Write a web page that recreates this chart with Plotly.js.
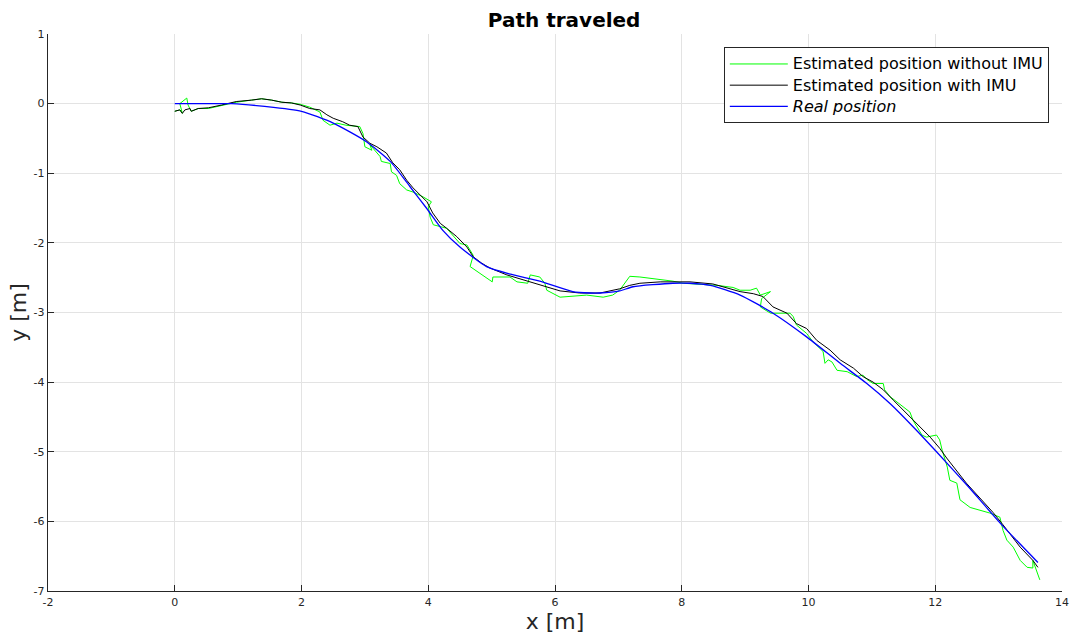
<!DOCTYPE html>
<html>
<head>
<meta charset="utf-8">
<script src="https://cdn.plot.ly/plotly-3.0.1.min.js"></script>
<style>html,body{margin:0;padding:0;background:#fff;}#chart{width:1072px;height:634px;}</style>
</head>
<body>
<div id="chart"></div>
<script>
// Estimated position without IMU (green)
const noImuX = [0,0.08,0.12,0.08,0.19,0.21,0.26,0.37,0.53,0.74,0.89,0.97,1.21,1.37,1.53,1.69,1.84,1.98,2.13,2.29,2.34,2.45,2.56,2.70,2.92,2.97,3.00,3.11,3.08,3.24,3.26,3.40,3.42,3.50,3.55,3.66,3.76,3.92,4.05,4.00,4.03,4.08,4.29,4.40,4.50,4.61,4.71,4.66,5.01,5.02,5.29,5.40,5.57,5.61,5.76,5.84,5.87,6.08,6.50,6.76,6.91,7.02,7.18,7.34,7.86,8.02,8.56,8.81,8.92,9.08,9.18,9.24,9.34,9.40,9.26,9.24,9.40,9.71,9.76,9.81,9.97,10.07,10.23,10.26,10.31,10.37,10.45,10.61,10.76,10.86,10.92,11.02,11.18,11.20,11.29,11.44,11.60,11.65,11.71,11.79,11.86,12.02,12.07,12.11,12.19,12.23,12.34,12.39,12.55,12.70,12.86,13.02,13.07,13.13,13.23,13.34,13.45,13.54,13.54,13.65];
const noImuY = [-0.11,-0.09,-0.14,0.00,0.08,-0.02,-0.11,-0.07,-0.07,-0.03,0.00,0.02,0.05,0.07,0.05,0.02,0.01,-0.01,-0.05,-0.12,-0.24,-0.31,-0.28,-0.31,-0.33,-0.43,-0.62,-0.67,-0.59,-0.76,-0.83,-0.86,-0.98,-1.03,-1.15,-1.24,-1.27,-1.34,-1.41,-1.48,-1.63,-1.74,-1.79,-1.91,-2.01,-2.03,-2.18,-2.34,-2.56,-2.49,-2.49,-2.56,-2.58,-2.46,-2.49,-2.58,-2.68,-2.78,-2.75,-2.78,-2.75,-2.68,-2.48,-2.49,-2.55,-2.58,-2.61,-2.64,-2.68,-2.68,-2.65,-2.75,-2.72,-2.70,-2.80,-2.92,-3.01,-3.01,-3.06,-3.18,-3.30,-3.42,-3.56,-3.73,-3.68,-3.71,-3.83,-3.85,-3.92,-3.90,-3.96,-4.02,-4.02,-4.11,-4.21,-4.31,-4.43,-4.55,-4.64,-4.76,-4.79,-4.76,-4.83,-4.98,-5.22,-5.41,-5.45,-5.69,-5.80,-5.84,-5.88,-5.94,-6.13,-6.27,-6.37,-6.56,-6.66,-6.67,-6.56,-6.84];

// Estimated position with IMU (black)
const imuX = [0,0.08,0.12,0.16,0.24,0.26,0.37,0.53,0.74,0.89,0.97,1.21,1.37,1.53,1.69,1.84,1.98,2.13,2.29,2.40,2.50,2.65,2.76,2.89,2.97,3.08,3.19,3.34,3.44,3.55,3.66,3.76,3.87,3.98,4.07,4.19,4.29,4.45,4.61,4.71,4.84,4.97,5.24,5.50,5.76,6.08,6.39,6.71,7.02,7.18,7.34,7.66,8.13,8.49,8.92,9.13,9.28,9.44,9.66,9.81,9.97,10.13,10.34,10.50,10.71,10.86,11.02,11.18,11.34,11.55,11.76,11.92,12.07,12.18,12.49,12.91,13.07,13.34,13.54,13.62];
const imuY = [-0.11,-0.09,-0.14,-0.09,-0.07,-0.11,-0.07,-0.06,-0.02,0.01,0.03,0.05,0.07,0.05,0.02,0.01,-0.02,-0.07,-0.09,-0.16,-0.21,-0.26,-0.31,-0.33,-0.48,-0.57,-0.62,-0.71,-0.85,-0.95,-1.10,-1.21,-1.31,-1.41,-1.57,-1.72,-1.79,-1.91,-2.06,-2.20,-2.29,-2.36,-2.46,-2.53,-2.61,-2.69,-2.72,-2.72,-2.66,-2.61,-2.58,-2.56,-2.56,-2.59,-2.70,-2.73,-2.77,-2.92,-3.01,-3.16,-3.23,-3.40,-3.54,-3.68,-3.80,-3.92,-4.00,-4.11,-4.26,-4.45,-4.64,-4.79,-4.95,-5.09,-5.45,-5.87,-6.05,-6.37,-6.56,-6.66];

// Real position (blue)
const realX = [0,0.5,0.9,1.42,2.0,2.5,3.03,3.40,3.71,3.98,4.23,4.50,4.92,5.30,5.76,6.28,6.55,6.71,7.02,7.23,7.86,8.13,8.45,8.92,9.44,9.97,10.50,10.92,11.29,11.65,12.02,12.52,13.05,13.62];
const realY = [0,0,0,-0.04,-0.11,-0.28,-0.55,-0.83,-1.19,-1.51,-1.82,-2.06,-2.34,-2.45,-2.55,-2.70,-2.72,-2.72,-2.69,-2.63,-2.58,-2.58,-2.61,-2.75,-3.01,-3.35,-3.73,-4.02,-4.31,-4.64,-5.00,-5.50,-6.05,-6.59];

const xTickVals = [-2,0,2,4,6,8,10,12,14];
const xTickText = ["-2","0","2","4","6","8","10","12","14"];
const yTickVals = [1,0,-1,-2,-3,-4,-5,-6,-7];
const yTickText = ["1","0","-1","-2","-3","-4","-5","-6","-7"];

const legendNames = ['Estimated position without IMU', 'Estimated position with IMU', 'Real position'];

const sized = s => '<span style="font-size:16px">' + s + '</span>';

const traces = [
  {x: noImuX, y: noImuY, mode: 'lines', name: sized(legendNames[0]), line: {color: '#00ff00', width: 1}},
  {x: imuX, y: imuY, mode: 'lines', name: sized(legendNames[1]), line: {color: '#000000', width: 1}},
  {x: realX, y: realY, mode: 'lines', name: sized('<i>' + legendNames[2] + '</i>'), line: {color: '#0000ff', width: 1.3, shape: 'spline', smoothing: 0.6}}
];

const axisCommon = {
  showline: true, linecolor: '#262626', linewidth: 1.3,
  ticks: 'inside', ticklen: 6, tickcolor: '#262626', tickwidth: 1,
  showgrid: true, gridcolor: '#e3e3e3', gridwidth: 1,
  zeroline: false, mirror: false,
  tickfont: {family: 'DejaVu Sans', size: 11, color: '#262626'}
};

const layout = {
  width: 1072, height: 634,
  margin: {l: 48, r: 10, t: 34, b: 43},
  paper_bgcolor: '#ffffff', plot_bgcolor: '#ffffff',
  font: {family: 'DejaVu Sans', color: '#000000'},
  title: {text: '<b>Path traveled</b>', x: 0.509, xref: 'paper', y: 0.968, yref: 'container', yanchor: 'middle',
          font: {family: 'DejaVu Sans', size: 20, color: '#000000'}},
  xaxis: Object.assign({}, axisCommon, {
    range: [-2, 14], tickvals: xTickVals, ticktext: xTickText,
    title: {text: 'x [m]', font: {family: 'DejaVu Sans', size: 22, color: '#262626'}, standoff: 4}
  }),
  yaxis: Object.assign({}, axisCommon, {
    range: [-7, 1], tickvals: yTickVals, ticktext: yTickText,
    title: {text: 'y [m]', font: {family: 'DejaVu Sans', size: 22, color: '#262626'}, standoff: 0}
  }),
  showlegend: true,
  legend: {
    x: 0.987, xanchor: 'right', y: 0.976, yanchor: 'top',
    bgcolor: '#ffffff', bordercolor: '#262626', borderwidth: 1,
    font: {family: 'DejaVu Sans', size: 14, color: '#000000'},
    itemwidth: 58, tracegroupgap: 0
  }
};

Plotly.newPlot('chart', traces, layout, {displayModeBar: false, staticPlot: true});
</script>
</body>
</html>
